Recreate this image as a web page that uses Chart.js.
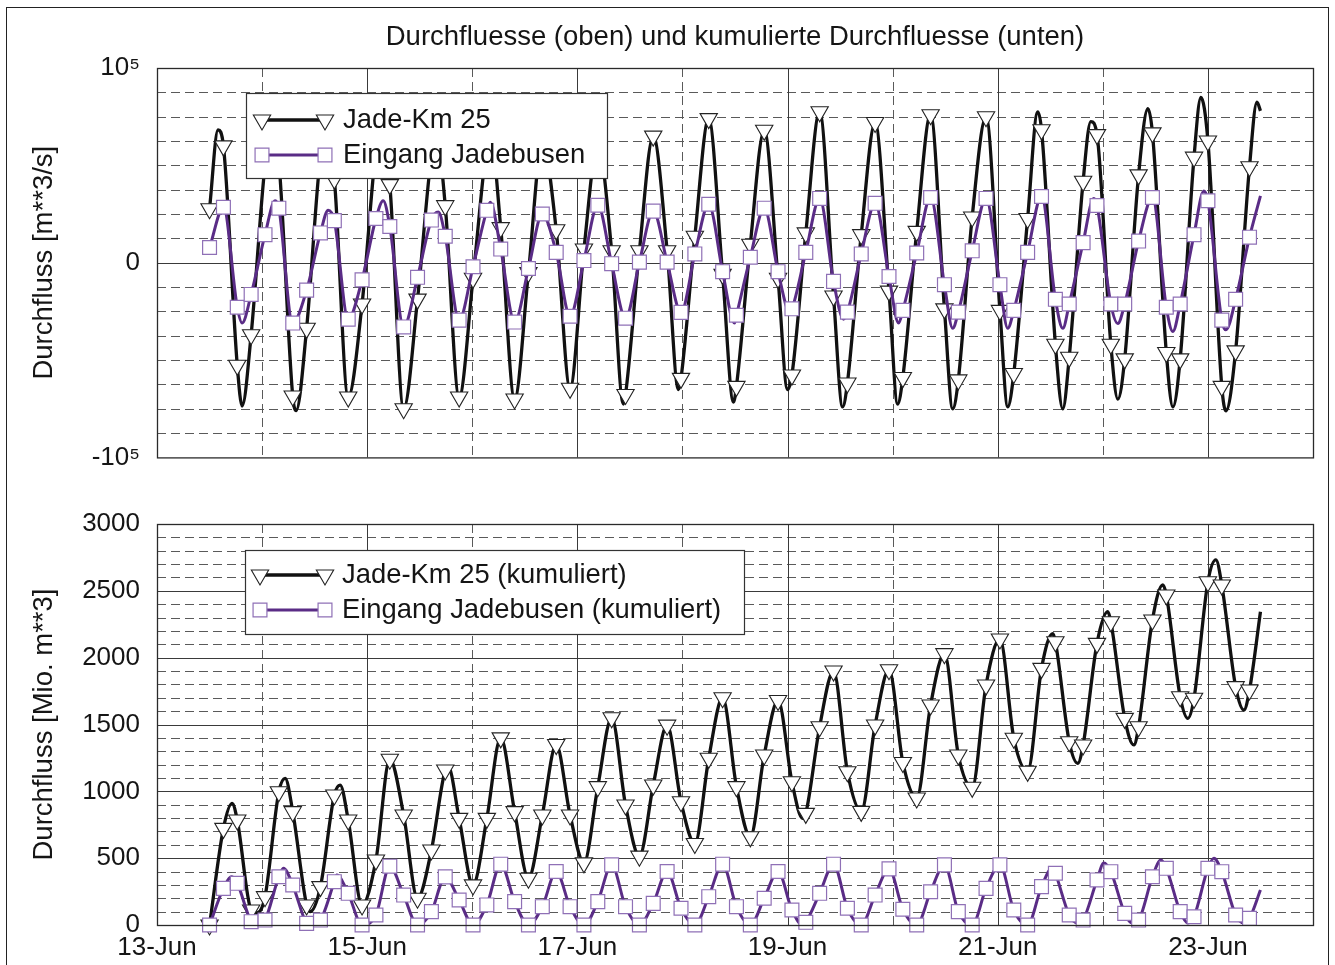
<!DOCTYPE html>
<html>
<head>
<meta charset="utf-8">
<script src="https://cdn.jsdelivr.net/npm/chart.js@4.4.1/dist/chart.umd.min.js"></script>
<style>
  html, body { margin: 0; padding: 0; background: #fff; overflow: hidden; }
  #frame { position: absolute; left: 6px; top: 7px; width: 1323px; height: 1000px; border: 1.5px solid #222; box-sizing: border-box; }
  #c1 { position: absolute; left: 0; top: 0; }
  #c2 { position: absolute; left: 0; top: 490px; }
</style>
</head>
<body>
<div id="frame"></div>
<canvas id="c1" width="1335" height="490"></canvas>
<canvas id="c2" width="1335" height="475"></canvas>
<script>
// hours after 13-Jun 00:00 where the markers sit (every 3h10m from 13-Jun 12:00)
const markerHours = [12, 15.17, 18.33, 21.5, 24.67, 27.83, 31, 34.17, 37.33, 40.5,
  43.67, 46.83, 50, 53.17, 56.33, 59.5, 62.67, 65.83, 69, 72.17,
  75.33, 78.5, 81.67, 84.83, 88, 91.17, 94.33, 97.5, 100.67, 103.83,
  107, 110.17, 113.33, 116.5, 119.67, 122.83, 126, 129.17, 132.33, 135.5,
  138.67, 141.83, 145, 148.17, 151.33, 154.5, 157.67, 160.83, 164, 167.17,
  170.33, 173.5, 176.67, 179.83, 183, 186.17, 189.33, 192.5, 195.67, 198.83,
  202, 205.17, 208.33, 211.5, 214.67, 217.83, 221, 224.17, 227.33, 230.5,
  233.67, 236.83, 240, 243.17, 246.33, 249.5];

// Durchfluss Jade-Km 25 [m**3/s] at the markers
const jadeQ = [27700, 60000, -52700, -37000, 50000, 52000, -68500, -33700, 55000, 43000,
  -69000, -21200, 58000, 40100, -75000, -18700, 55000, 29300, -69000, -8000,
  60000, 18000, -70000, -5000, 62000, 16900, -64500, 7000, 61000, 6100,
  -67700, 6100, 65000, 6100, -59400, 13600, 74000, -6000, -63500, 9500,
  68000, -8000, -57700, 15300, 77500, -17100, -61800, 14400, 72000, -14600,
  -59000, 16100, 76000, -23700, -60200, 23500, 75000, -24500, -56900, 22700,
  68300, -41900, -48600, 41800, 65800, -41900, -49400, 45100, 66700, -46100,
  -49400, 54200, 62500, -63500, -45300, 49300];
// peaks / troughs between the markers
const jadeQPeakHours = [13.94, 19.43, 26.29, 31.77, 38.63, 51.2, 63.77, 76.11, 106.51, 119.09,
  131.66, 144.0, 156.57, 169.14, 181.71, 194.29, 201.14, 206.86, 213.26, 219.43,
  226.29, 232.0, 238.4, 244.11, 251.2, 252.0];
const jadeQPeakVals = [68200, -73600, 70000, -76000, 68000, 72000, 66000, 66000, -72600, -65200,
  -71600, -65200, -74100, -72600, -75100, -74100, 77500, -75100, 72500, -70100,
  79100, -74100, 84900, -76100, 82500, 78000];

// Durchfluss Eingang Jadebusen [m**3/s]
const eingangQ = [7800, 28500, -22900, -16300, 14400, 28000, -31000, -14100, 15300, 21600,
  -29000, -8800, 22700, 18600, -33000, -7500, 21900, 13600, -29500, -2100,
  26900, 7000, -30500, -3000, 25000, 5300, -27500, 1100, 29500, -500,
  -28500, 300, 26500, 300, -25500, 4500, 30000, -4600, -27000, 2800,
  28000, -4600, -23700, 5300, 33000, -9600, -25400, 4500, 30500, -7100,
  -24500, 5000, 33500, -11300, -25400, 6100, 33000, -11300, -24500, 5300,
  34000, -18800, -21200, 10300, 29400, -21200, -21200, 11100, 33500, -22900,
  -21200, 14400, 31800, -29500, -18800, 13100];
const eingangQPeakHours = [19.43, 26.97, 39.09, 51.66, 64.23, 76.11, 131.89, 144.46, 156.8, 169.37,
  181.71, 194.29, 206.86, 213.94, 219.43, 232.0, 239.09, 244.11, 252.0];
const eingangQPeakVals = [-31000, 31800, 27000, 31800, 26000, 31000, -31000, -25000, -29000, -31000,
  -33700, -33700, -33700, 33000, -31200, -35300, 36800, -34500, 34300];

// kumulierter Durchfluss Jade-Km 25 [Mio. m**3]
const jadeV = [0, 723, 785, 112, 212, 997, 848, 150, 287, 973,
  785, 150, 486, 1240, 823, 200, 561, 1160, 798, 300,
  798, 1400, 848, 350, 823, 1350, 823, 465, 1035, 1550,
  898, 515, 1047, 1495, 922, 610, 1247, 1700, 1035, 660,
  1272, 1680, 1072, 835, 1483, 1900, 1147, 850, 1496, 1910,
  1216, 950, 1646, 2030, 1272, 1030, 1795, 2140, 1397, 1150,
  1920, 2119, 1371, 1347, 2107, 2269, 1546, 1483, 2282, 2469,
  1708, 1696, 2568, 2544, 1783, 1758];
const jadeVPeakHours = [17.14, 22.86, 29.26, 34.97, 41.83, 66.51, 147.43, 204.57, 210.29, 217.14,
  223.09, 229.71, 235.43, 241.83, 248.23, 252.0];
const jadeVPeakVals = [910, 90, 1097, 100, 1047, 1184, 798, 2180, 1210, 2344,
  1347, 2544, 1546, 2731, 1608, 2344];

// kumulierter Durchfluss Eingang Jadebusen [Mio. m**3]
const eingangV = [0, 274, 312, 25, 37, 361, 299, 12, 37, 324,
  237, 0, 75, 440, 224, 0, 100, 360, 187, 0,
  150, 455, 175, 0, 137, 400, 137, 0, 175, 450,
  137, 0, 162, 400, 125, 0, 212, 455, 137, 0,
  200, 400, 112, 20, 237, 455, 125, 0, 224, 420,
  118, 0, 249, 450, 100, 0, 274, 450, 112, 0,
  287, 387, 75, 37, 337, 399, 87, 37, 361, 424,
  100, 62, 424, 399, 75, 50];
const eingangVPeakHours = [17.07, 22.86, 28.87, 34.97, 41.07, 147.43, 204.57, 210.29, 216.23, 222.63,
  229.26, 235.43, 241.37, 248.23, 252.0];
const eingangVPeakVals = [361, 0, 424, 0, 374, 0, 430, 15, 464, 15,
  486, 15, 499, 15, 262];

const FONT = '"Liberation Sans", Arial, Helvetica, sans-serif';
const TXT = '#151515';

// markers and turning points together, sorted in time
function mergePoints(mVals, pHours, pVals) {
  const pts = markerHours.map((h, i) => ({ x: h, y: mVals[i], m: true }));
  pHours.forEach((h, i) => pts.push({ x: h, y: pVals[i], m: false }));
  pts.sort((a, b) => a.x - b.x);
  return pts;
}

function jadeSet(label, pts) {
  return {
    label: label, data: pts, order: 1,
    borderColor: '#111', borderWidth: 3.3,
    cubicInterpolationMode: 'monotone', clip: false,
    pointStyle: 'triangle', pointRotation: 180, markerRadius: 10,
    pointRadius: c => (c.raw && c.raw.m ? 10 : 0),
    pointBackgroundColor: '#fff', pointBorderColor: '#222', pointBorderWidth: 1.1
  };
}
function eingangSet(label, pts) {
  return {
    label: label, data: pts, order: 0,
    borderColor: '#5a2c86', borderWidth: 3,
    cubicInterpolationMode: 'monotone', clip: false,
    pointStyle: 'rect', pointRotation: 0, markerRadius: 9.8,
    pointRadius: c => (c.raw && c.raw.m ? 9.8 : 0),
    pointBackgroundColor: '#fff', pointBorderColor: '#8f70b6', pointBorderWidth: 1.2
  };
}

function range(a, b, step, skip) {
  const out = [];
  for (let v = a; v <= b + 1e-9; v += step) if (!skip || v % skip !== 0) out.push(v);
  return out;
}

// matlab-like grid, axes box and legend
const matlabStyle = {
  id: 'matlabStyle',
  beforeDatasetsDraw(chart, args, opts) {
    const { ctx, chartArea: a, scales: { x, y } } = chart;
    ctx.save();
    ctx.lineWidth = 1;
    const hline = v => { const p = Math.round(y.getPixelForValue(v)) + 0.5; ctx.beginPath(); ctx.moveTo(a.left, p); ctx.lineTo(a.right, p); ctx.stroke(); };
    const vline = v => { const p = Math.round(x.getPixelForValue(v)) + 0.5; ctx.beginPath(); ctx.moveTo(p, a.top); ctx.lineTo(p, a.bottom); ctx.stroke(); };
    ctx.strokeStyle = '#5a5a5a';
    ctx.setLineDash([9, 5]);
    opts.yDash.forEach(hline);
    opts.xDash.forEach(vline);
    ctx.setLineDash([]);
    ctx.strokeStyle = '#3a3a3a';
    opts.ySolid.forEach(hline);
    opts.xSolid.forEach(vline);
    ctx.restore();
  },
  afterDatasetsDraw(chart, args, opts) {
    const { ctx, chartArea: a } = chart;
    ctx.save();
    ctx.strokeStyle = '#2a2a2a';
    ctx.lineWidth = 1.3;
    ctx.strokeRect(a.left + 0.5, a.top + 0.5, a.right - a.left, a.bottom - a.top);

    const L = opts.legend;
    ctx.fillStyle = '#fff';
    ctx.fillRect(L.x, L.y, L.w, L.h);
    ctx.strokeStyle = '#333';
    ctx.lineWidth = 1.2;
    ctx.strokeRect(L.x + 0.5, L.y + 0.5, L.w, L.h);
    chart.data.datasets.forEach((ds, i) => {
      const yy = L.rows[i];
      ctx.strokeStyle = ds.borderColor;
      ctx.lineWidth = ds.borderWidth;
      ctx.beginPath(); ctx.moveTo(L.m1, yy); ctx.lineTo(L.m2, yy); ctx.stroke();
      [L.m1, L.m2].forEach(mx => {
        ctx.fillStyle = ds.pointBackgroundColor;
        ctx.strokeStyle = ds.pointBorderColor;
        ctx.lineWidth = ds.pointBorderWidth;
        Chart.helpers.drawPoint(ctx, { pointStyle: ds.pointStyle, rotation: ds.pointRotation, radius: ds.markerRadius, borderWidth: ds.pointBorderWidth }, mx, yy);
      });
      ctx.fillStyle = TXT;
      ctx.font = '27.4px ' + FONT;
      ctx.textAlign = 'left';
      ctx.textBaseline = 'middle';
      ctx.fillText(ds.label, L.tx, yy);
    });
    ctx.restore();
  }
};

const tickFont = { family: FONT, size: 26 };
const labelFont = { family: FONT, size: 27.5 };
const xHidden = { type: 'linear', min: 0, max: 264, display: false };

new Chart(document.getElementById('c1'), {
  type: 'line',
  data: {
    datasets: [
      jadeSet('Jade-Km 25', mergePoints(jadeQ, jadeQPeakHours, jadeQPeakVals)),
      eingangSet('Eingang Jadebusen', mergePoints(eingangQ, eingangQPeakHours, eingangQPeakVals))
    ]
  },
  options: {
    responsive: false, animation: false, devicePixelRatio: 1, events: [],
    layout: { padding: { left: 0, right: 22, top: 0, bottom: 20 } },
    plugins: {
      legend: { display: false },
      tooltip: { enabled: false },
      title: {
        display: true, fullSize: false,
        text: 'Durchfluesse (oben) und kumulierte Durchfluesse (unten)',
        color: TXT, font: { family: FONT, size: 27.5, weight: 'normal' },
        padding: { top: 21, bottom: 14 }
      },
      matlabStyle: {
        yDash: range(-87500, 87500, 12500, 100000).filter(v => v !== 0),
        ySolid: [0],
        xDash: [24, 72, 120, 168, 216],
        xSolid: [48, 96, 144, 192, 240],
        legend: { x: 246, y: 93, w: 361, h: 85, rows: [120, 155], m1: 262, m2: 325, tx: 343 }
      }
    },
    scales: {
      x: xHidden,
      y: {
        type: 'linear', min: -100000, max: 100000,
        ticks: {
          stepSize: 100000, padding: 17, color: TXT, font: tickFont,
          callback: v => (v === 0 ? '0' : (v > 0 ? '10\u2075' : '-10\u2075'))
        },
        grid: { display: false, drawTicks: false },
        border: { display: false },
        title: { display: true, text: 'Durchfluss [m**3/s]', color: TXT, font: labelFont, padding: { top: 28, bottom: 0 } },
        afterFit: s => { s.width = 157; }
      }
    }
  },
  plugins: [matlabStyle]
});

new Chart(document.getElementById('c2'), {
  type: 'line',
  data: {
    datasets: [
      jadeSet('Jade-Km 25 (kumuliert)', mergePoints(jadeV, jadeVPeakHours, jadeVPeakVals)),
      eingangSet('Eingang Jadebusen (kumuliert)', mergePoints(eingangV, eingangVPeakHours, eingangVPeakVals))
    ]
  },
  options: {
    responsive: false, animation: false, devicePixelRatio: 1, events: [],
    layout: { padding: { left: 0, right: 22, top: 34, bottom: 0 } },
    plugins: {
      legend: { display: false },
      tooltip: { enabled: false },
      matlabStyle: {
        yDash: range(100, 2900, 100, 500),
        ySolid: [500, 1000, 1500, 2000, 2500],
        xDash: [24, 72, 120, 168, 216],
        xSolid: [48, 96, 144, 192, 240],
        legend: { x: 245, y: 60, w: 499, h: 84, rows: [85, 120], m1: 260, m2: 325, tx: 342 }
      }
    },
    scales: {
      x: {
        type: 'linear', min: 0, max: 264,
        ticks: {
          stepSize: 24, autoSkip: false, maxRotation: 0, padding: 7, color: TXT, font: tickFont,
          callback: v => (v % 48 === 0 ? (13 + v / 24) + '-Jun' : '')
        },
        grid: { display: false, drawTicks: false },
        border: { display: false },
        afterFit: s => { s.height = 40; }
      },
      y: {
        type: 'linear', min: 0, max: 3000,
        ticks: { stepSize: 500, padding: 17, color: TXT, font: tickFont, callback: v => String(v) },
        grid: { display: false, drawTicks: false },
        border: { display: false },
        title: { display: true, text: 'Durchfluss [Mio. m**3]', color: TXT, font: labelFont, padding: { top: 28, bottom: 0 } },
        afterFit: s => { s.width = 157; }
      }
    }
  },
  plugins: [matlabStyle]
});
</script>
</body>
</html>
